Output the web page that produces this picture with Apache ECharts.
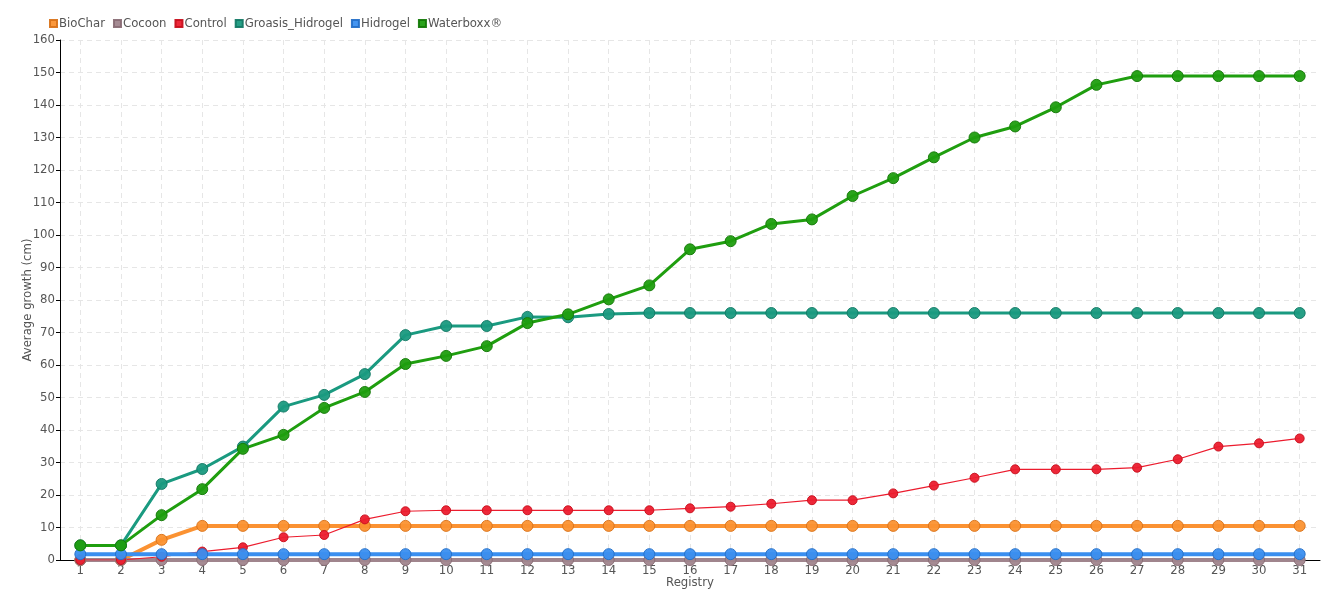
<!DOCTYPE html>
<html><head><meta charset="utf-8">
<script src="https://cdn.jsdelivr.net/npm/echarts@6/dist/echarts.min.js"></script>
<style>html,body{margin:0;padding:0;background:#fff}#c{width:1340px;height:600px}</style>
</head><body><div id="c"></div>
<script>
const categories = ['1','2','3','4','5','6','7','8','9','10','11','12','13','14','15','16','17','18','19','20','21','22','23','24','25','26','27','28','29','30','31'];
const biochar = [0,0,6.2,10.5,10.5,10.5,10.5,10.5,10.5,10.5,10.5,10.5,10.5,10.5,10.5,10.5,10.5,10.5,10.5,10.5,10.5,10.5,10.5,10.5,10.5,10.5,10.5,10.5,10.5,10.5,10.5];
const cocoon = [0,0,0,0,0,0,0,0,0,0,0,0,0,0,0,0,0,0,0,0,0,0,0,0,0,0,0,0,0,0,0];
const control = [0,0,1,2.6,3.9,7,7.7,12.5,15,15.3,15.3,15.3,15.3,15.3,15.3,15.9,16.4,17.3,18.4,18.4,20.5,22.9,25.3,27.9,27.9,27.9,28.4,31,34.9,35.9,37.4];
const groasis = [4.5,4.5,23.4,28,34.9,47.2,50.8,57.2,69.2,72,72,74.8,74.7,75.7,76,76,76,76,76,76,76,76,76,76,76,76,76,76,76,76,76];
const hidrogel = [1.8,1.8,1.8,1.8,1.8,1.8,1.8,1.8,1.8,1.8,1.8,1.8,1.8,1.8,1.8,1.8,1.8,1.8,1.8,1.8,1.8,1.8,1.8,1.8,1.8,1.8,1.8,1.8,1.8,1.8,1.8];
const waterboxx = [4.5,4.5,13.8,21.8,34.2,38.5,46.8,51.7,60.3,62.8,65.8,72.9,75.6,80.2,84.5,95.6,98.1,103.4,104.8,112,117.5,123.9,130,133.4,139.3,146.2,148.9,148.9,148.9,148.9,148.9];
const seriesNames = ['BioChar','Cocoon','Control','Groasis_Hidrogel','Hidrogel','Waterboxx®'];
const seriesData = [biochar,cocoon,control,groasis,hidrogel,waterboxx];
const colors = ['#fb9232','#a0858d','#ec1c2e','#1a9a80','#3a8ff0','#1f9e0f'];
const borders = ['#d9731a','#8a6e76','#c8101e','#147a66','#2570c8','#157a08'];
const widths = [4,4,1.2,3,4,3];
const sizes = [11,11,9,11,11,11];
const FONT = '"DejaVu Sans Condensed","Liberation Sans Narrow",sans-serif';

const chart = echarts.init(document.getElementById('c'));
chart.setOption({
  animation:false,
  color:colors,
  textStyle:{fontFamily:FONT},
  legend:{left:44,top:12,icon:'rect',itemWidth:7,itemHeight:7,itemGap:8,
    textStyle:{fontFamily:FONT,fontSize:13,color:'#555',padding:[0,0,0,-3]},data:seriesNames},
  grid:{left:60,right:20,top:40,bottom:40,containLabel:false},
  xAxis:{type:'category',data:categories,boundaryGap:true,
    name:'Registry',nameLocation:'middle',nameGap:16,nameMoveOverlap:false,
    nameTextStyle:{fontFamily:FONT,fontSize:13,color:'#555'},
    axisLine:{lineStyle:{color:'#000',width:1}},
    axisTick:{show:false,alignWithLabel:true},
    axisLabel:{fontFamily:FONT,fontSize:13,color:'#555',margin:4,interval:0},
    splitLine:{show:true,alignWithLabel:true,lineStyle:{color:'#e6e6e6',type:[5,4]}}},
  yAxis:{type:'value',min:0,max:160,interval:10,
    name:'Average growth (cm)',nameLocation:'middle',nameGap:26,nameRotate:90,nameMoveOverlap:false,
    nameTextStyle:{fontFamily:FONT,fontSize:13,color:'#555'},
    axisLine:{show:true,lineStyle:{color:'#000',width:1}},
    axisTick:{show:true,length:4,lineStyle:{color:'#000'}},
    axisLabel:{fontFamily:FONT,fontSize:13,color:'#555',margin:5},
    splitLine:{show:true,lineStyle:{color:'#e6e6e6',type:[5,4]}}},
  series:seriesNames.map((n,i)=>({
    name:n,type:'line',data:seriesData[i],symbol:'circle',symbolSize:sizes[i],showAllSymbol:true,
    lineStyle:{width:widths[i],color:colors[i]},
    itemStyle:{color:colors[i],borderColor:borders[i],borderWidth:1,opacity:0.95}
  }))
});
</script></body></html>
